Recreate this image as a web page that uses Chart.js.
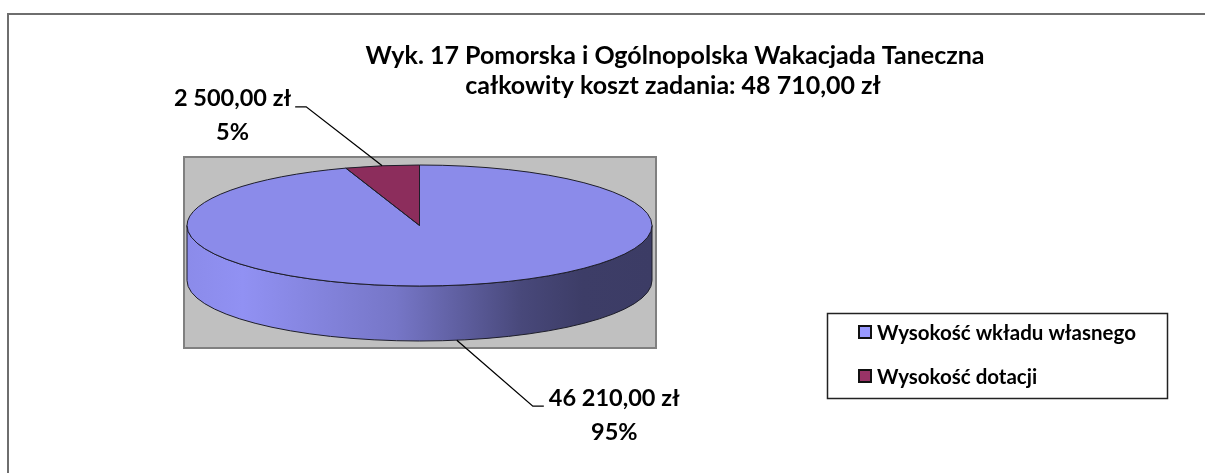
<!DOCTYPE html>
<html>
<head>
<meta charset="utf-8">
<script src="https://cdn.jsdelivr.net/npm/chart.js@4"></script>
<style>
html, body { margin: 0; padding: 0; background: #fff; }
canvas { display: block; }
</style>
</head>
<body>
<canvas id="pie" width="1205" height="473"></canvas>
<script>
const titleLines = ['Wyk. 17 Pomorska i Ogólnopolska Wakacjada Taneczna', 'całkowity koszt zadania: 48 710,00 zł'];
const categories = ['Wysokość wkładu własnego', 'Wysokość dotacji'];
const amounts = [46210, 2500];
const topColors = ['#8b8bea', '#8c2d5c'];
const legendColors = ['#9999ff', '#993366'];

(function () {
	const depth = 55;
	const squash = 60.5 / 232.5;
	const labelFont = 'bold 23.5px Lato';
	const titleFont = 'bold 25px Lato';
	const legendFont = 'bold 20.5px Lato';

	const fmtZl = v => {
		const parts = v.toFixed(2).split('.');
		return parts[0].replace(/\B(?=(\d{3})+(?!\d))/g, ' ') + ',' + parts[1] + ' zł';
	};

	const shade = (hex, f) => {
		const n = parseInt(hex.slice(1), 16);
		const c = [n >> 16, (n >> 8) & 255, n & 255].map(x => Math.min(255, Math.round(x * f)));
		return 'rgb(' + c.join(',') + ')';
	};

	const pie3d = {
		id: 'pie3d',
		beforeDraw(chart) {
			const ctx = chart.ctx;
			ctx.save();
			ctx.fillStyle = '#fff';
			ctx.fillRect(0, 0, chart.width, chart.height);
			// outer frame (only top and left are inside the picture)
			ctx.strokeStyle = '#6e6e6e'; ctx.lineWidth = 2;
			ctx.beginPath(); ctx.moveTo(8, chart.height); ctx.lineTo(8, 14); ctx.lineTo(chart.width, 14); ctx.stroke();
			// plot area
			ctx.fillStyle = '#c0c0c0';
			ctx.fillRect(184, 157, 472, 191);
			ctx.strokeStyle = '#808080'; ctx.lineWidth = 2;
			ctx.strokeRect(184, 157, 472, 191);
			ctx.restore();
		},
		beforeDatasetsDraw(chart) {
			const ctx = chart.ctx;
			const arcs = chart.getDatasetMeta(0).data;
			ctx.save();
			arcs.forEach((arc, i) => {
				const { x, y, outerRadius, startAngle, endAngle } = arc.getProps(['x', 'y', 'outerRadius', 'startAngle', 'endAngle']);
				const rx = outerRadius, ry = outerRadius * squash;
				for (let k = -1; k <= 2; k++) {
					const a0 = Math.max(startAngle, k * 2 * Math.PI);
					const a1 = Math.min(endAngle, k * 2 * Math.PI + Math.PI);
					if (a1 <= a0) {continue;}
					const base = topColors[i];
					const g = ctx.createLinearGradient(x - rx, 0, x + rx, 0);
					g.addColorStop(0, shade(base, 1.0));
					g.addColorStop(0.12, shade(base, 1.04));
					g.addColorStop(0.45, shade(base, 0.85));
					g.addColorStop(0.72, shade(base, 0.52));
					g.addColorStop(0.85, shade(base, 0.44));
					g.addColorStop(1, shade(base, 0.43));
					ctx.beginPath();
					ctx.ellipse(x, y, rx, ry, 0, a0, a1);
					ctx.ellipse(x, y + depth, rx, ry, 0, a1, a0, true);
					ctx.closePath();
					ctx.fillStyle = g; ctx.fill();
					ctx.strokeStyle = '#1e1e2a'; ctx.lineWidth = 1; ctx.stroke();
				}
			});
			ctx.restore();
			const c = arcs[0];
			ctx.save();
			ctx.translate(c.x, c.y); ctx.scale(1, squash); ctx.translate(-c.x, -c.y);
		},
		afterDatasetsDraw(chart) {
			const ctx = chart.ctx;
			ctx.restore();
			const arcs = chart.getDatasetMeta(0).data;
			const total = amounts.reduce((a, b) => a + b, 0);
			ctx.save();
			// slice outlines on the top face
			arcs.forEach(arc => {
				const { x, y, outerRadius, startAngle, endAngle } = arc.getProps(['x', 'y', 'outerRadius', 'startAngle', 'endAngle']);
				ctx.beginPath();
				ctx.moveTo(x, y);
				ctx.ellipse(x, y, outerRadius, outerRadius * squash, 0, startAngle, endAngle);
				ctx.closePath();
				ctx.strokeStyle = '#1e1e2a'; ctx.lineWidth = 1; ctx.stroke();
			});
			// data labels with leader lines
			arcs.forEach((arc, i) => {
				const { x, y, outerRadius, startAngle, endAngle } = arc.getProps(['x', 'y', 'outerRadius', 'startAngle', 'endAngle']);
				const mid = (startAngle + endAngle) / 2;
				const sx = Math.cos(mid) >= 0 ? 1 : -1;
				const sy = Math.sin(mid) >= 0 ? 1 : -1;
				const ax = x + outerRadius * Math.cos(mid);
				const ay = y + outerRadius * squash * Math.sin(mid) + (sy > 0 ? depth : 0);
				const ex = ax + 76 * sx, ey = ay + (sy > 0 ? 66 : -59);
				const hx = ex + 11 * sx;
				ctx.beginPath(); ctx.moveTo(ax, ay); ctx.lineTo(ex, ey); ctx.lineTo(hx, ey);
				ctx.strokeStyle = '#000'; ctx.lineWidth = 1.3; ctx.stroke();
				ctx.font = labelFont; ctx.fillStyle = '#000'; ctx.textBaseline = 'middle';
				const t1 = fmtZl(amounts[i]);
				const t2 = Math.round(amounts[i] / total * 100) + '%';
				const w = ctx.measureText(t1).width;
				const left = sx > 0 ? hx + 5 : hx - 4 - w;
				ctx.textAlign = 'left';
				ctx.fillText(t1, left, ey - 8);
				ctx.textAlign = 'center';
				ctx.fillText(t2, left + w / 2, ey + 26);
			});
			// title
			ctx.font = titleFont; ctx.textAlign = 'center'; ctx.textBaseline = 'middle';
			ctx.fillText(titleLines[0], 675, 56);
			ctx.fillText(titleLines[1], 673, 86);
			// legend
			ctx.strokeStyle = '#222'; ctx.lineWidth = 1.5;
			ctx.strokeRect(827.5, 313.5, 340, 85);
			ctx.font = legendFont; ctx.textAlign = 'left';
			categories.forEach((lab, i) => {
				const yy = 332 + i * 44;
				ctx.fillStyle = legendColors[i];
				ctx.fillRect(859, yy - 6, 12, 12);
				ctx.strokeStyle = '#111'; ctx.lineWidth = 2;
				ctx.strokeRect(859, yy - 6, 12, 12);
				ctx.fillStyle = '#000';
				ctx.fillText(lab, 877, yy + 1);
			});
			ctx.restore();
		}
	};

	new Chart(document.getElementById('pie'), {
		type: 'pie',
		data: {
			labels: categories,
			datasets: [{ data: amounts, backgroundColor: topColors, borderWidth: 0, radius: 232.5, clip: false, hoverOffset: 0 }]
		},
		options: {
			responsive: false, animation: false, events: [],
			layout: { padding: { left: 187, right: 553, top: 165, bottom: 187 } },
			plugins: { legend: { display: false }, title: { display: false }, tooltip: { enabled: false } }
		},
		plugins: [pie3d]
	});
})();
</script>
</body>
</html>
